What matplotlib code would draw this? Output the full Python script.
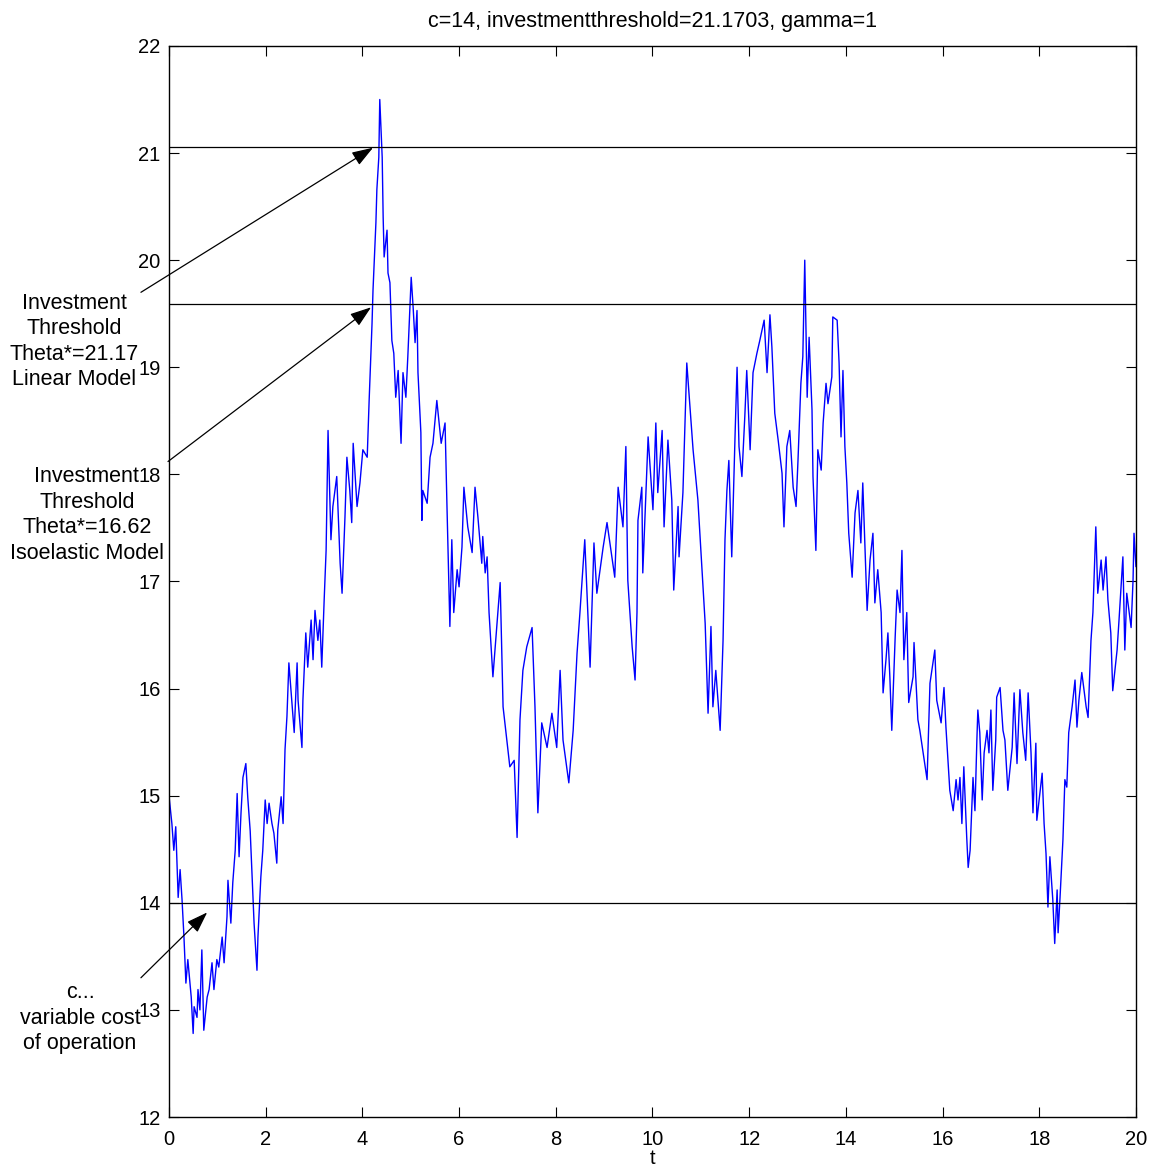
import matplotlib
matplotlib.use("Agg")
import matplotlib.pyplot as plt

plt.rcParams['font.family'] = ['Liberation Sans', 'DejaVu Sans']

# Simulated price path theta(t)
t = [0.00, 0.06, 0.10, 0.14, 0.19, 0.23, 0.27, 0.31, 0.35, 0.39, 0.46, 0.50, 0.52, 0.58, 0.60, 0.64,
     0.68, 0.72, 0.79, 0.83, 0.89, 0.93, 0.99, 1.03, 1.10, 1.14, 1.20, 1.22, 1.28, 1.32, 1.37, 1.41,
     1.45, 1.49, 1.53, 1.59, 1.63, 1.68, 1.72, 1.76, 1.82, 1.84, 1.90, 1.94, 1.99, 2.03, 2.07, 2.13,
     2.17, 2.23, 2.25, 2.32, 2.36, 2.40, 2.44, 2.48, 2.54, 2.59, 2.65, 2.67, 2.75, 2.77, 2.83, 2.87,
     2.94, 2.98, 3.02, 3.08, 3.12, 3.16, 3.21, 3.25, 3.29, 3.31, 3.35, 3.39, 3.47, 3.54, 3.58, 3.64,
     3.68, 3.74, 3.78, 3.81, 3.89, 3.95, 4.01, 4.10, 4.14, 4.20, 4.22, 4.28, 4.30, 4.34, 4.36, 4.41,
     4.43, 4.45, 4.51, 4.53, 4.57, 4.61, 4.65, 4.69, 4.74, 4.80, 4.84, 4.90, 4.94, 5.01, 5.05, 5.09,
     5.13, 5.15, 5.21, 5.23, 5.25, 5.34, 5.40, 5.46, 5.54, 5.63, 5.71, 5.75, 5.81, 5.85, 5.89, 5.96,
     6.00, 6.06, 6.10, 6.18, 6.27, 6.33, 6.39, 6.47, 6.49, 6.54, 6.58, 6.62, 6.70, 6.85, 6.91, 7.05,
     7.14, 7.20, 7.26, 7.32, 7.40, 7.51, 7.57, 7.63, 7.71, 7.82, 7.92, 8.02, 8.09, 8.15, 8.27, 8.36,
     8.44, 8.50, 8.60, 8.71, 8.79, 8.85, 8.98, 9.06, 9.22, 9.29, 9.39, 9.45, 9.49, 9.58, 9.64, 9.68,
     9.70, 9.78, 9.80, 9.91, 10.01, 10.07, 10.11, 10.20, 10.24, 10.32, 10.40, 10.44, 10.53, 10.55,
     10.63, 10.71, 10.78, 10.84, 10.94, 11.02, 11.09, 11.15, 11.21, 11.25, 11.31, 11.40, 11.46,
     11.50, 11.54, 11.58, 11.64, 11.71, 11.75, 11.79, 11.85, 11.91, 11.95, 12.02, 12.08, 12.16,
     12.22, 12.31, 12.37, 12.43, 12.47, 12.53, 12.60, 12.68, 12.72, 12.78, 12.84, 12.91, 12.97,
     13.01, 13.07, 13.11, 13.15, 13.20, 13.24, 13.30, 13.32, 13.38, 13.42, 13.49, 13.53, 13.59,
     13.63, 13.71, 13.73, 13.82, 13.86, 13.90, 13.94, 13.98, 14.02, 14.06, 14.13, 14.19, 14.25,
     14.31, 14.35, 14.40, 14.44, 14.50, 14.56, 14.60, 14.66, 14.73, 14.77, 14.83, 14.87, 14.91,
     14.95, 15.02, 15.06, 15.12, 15.16, 15.20, 15.26, 15.30, 15.39, 15.41, 15.49, 15.53, 15.62,
     15.68, 15.74, 15.80, 15.84, 15.88, 15.97, 16.03, 16.07, 16.15, 16.22, 16.28, 16.32, 16.36,
     16.40, 16.44, 16.50, 16.53, 16.57, 16.63, 16.67, 16.71, 16.73, 16.77, 16.82, 16.86, 16.92,
     16.96, 17.00, 17.04, 17.10, 17.12, 17.19, 17.25, 17.29, 17.35, 17.44, 17.48, 17.54, 17.60,
     17.66, 17.72, 17.77, 17.83, 17.87, 17.93, 17.95, 18.06, 18.10, 18.14, 18.18, 18.22, 18.28,
     18.32, 18.37, 18.39, 18.43, 18.49, 18.53, 18.57, 18.61, 18.68, 18.74, 18.78, 18.82, 18.88,
     18.92, 18.97, 19.01, 19.07, 19.11, 19.17, 19.21, 19.28, 19.32, 19.38, 19.42, 19.48, 19.52,
     19.61, 19.65, 19.73, 19.77, 19.81, 19.90, 19.94, 19.96, 20.00]

theta = [15.00, 14.74, 14.49, 14.71, 14.05, 14.31, 14.03, 13.68, 13.25, 13.47, 13.12, 12.78, 13.03,
         12.93, 13.19, 13.00, 13.56, 12.81, 13.12, 13.19, 13.44, 13.19, 13.47, 13.40, 13.68, 13.44,
         13.87, 14.21, 13.81, 14.19, 14.49, 15.02, 14.43, 14.84, 15.17, 15.30, 14.98, 14.67, 14.24,
         13.81, 13.37, 13.68, 14.24, 14.49, 14.96, 14.74, 14.93, 14.74, 14.65, 14.37, 14.68, 14.99,
         14.74, 15.43, 15.74, 16.24, 15.89, 15.59, 16.24, 15.89, 15.45, 15.89, 16.52, 16.20, 16.64,
         16.27, 16.73, 16.45, 16.64, 16.20, 16.83, 17.29, 18.41, 18.07, 17.39, 17.70, 17.98, 17.17,
         16.89, 17.60, 18.16, 17.85, 17.55, 18.29, 17.70, 17.92, 18.23, 18.16, 18.69, 19.41, 19.72,
         20.35, 20.66, 20.96, 21.50, 20.96, 20.40, 20.03, 20.28, 19.88, 19.79, 19.25, 19.13, 18.72,
         18.97, 18.29, 18.95, 18.72, 19.10, 19.84, 19.56, 19.23, 19.53, 18.95, 18.39, 17.57, 17.85,
         17.73, 18.16, 18.29, 18.69, 18.29, 18.48, 17.70, 16.58, 17.39, 16.71, 17.11, 16.95, 17.32,
         17.88, 17.51, 17.27, 17.88, 17.60, 17.17, 17.42, 17.08, 17.23, 16.71, 16.11, 16.99, 15.83,
         15.27, 15.33, 14.61, 15.71, 16.17, 16.39, 16.57, 15.83, 14.84, 15.68, 15.45, 15.77, 15.45,
         16.17, 15.52, 15.12, 15.61, 16.33, 16.71, 17.39, 16.20, 17.36, 16.89, 17.32, 17.55, 17.04,
         17.88, 17.51, 18.26, 17.01, 16.39, 16.08, 16.71, 17.57, 17.88, 17.08, 18.35, 17.67, 18.48,
         17.83, 18.41, 17.51, 18.32, 17.76, 16.92, 17.70, 17.23, 17.83, 19.04, 18.60, 18.23, 17.76,
         17.14, 16.61, 15.77, 16.58, 15.83, 16.17, 15.61, 16.45, 17.39, 17.85, 18.13, 17.23, 18.39,
         19.00, 18.26, 17.98, 18.54, 18.97, 18.23, 18.95, 19.13, 19.25, 19.44, 18.95, 19.49, 19.19,
         18.57, 18.32, 18.01, 17.51, 18.26, 18.41, 17.88, 17.70, 18.13, 18.85, 19.10, 20.00, 18.72,
         19.28, 18.60, 17.98, 17.29, 18.23, 18.04, 18.48, 18.85, 18.66, 18.91, 19.47, 19.44, 19.04,
         18.35, 18.97, 18.26, 17.92, 17.45, 17.04, 17.64, 17.85, 17.36, 17.92, 17.27, 16.73, 17.20,
         17.45, 16.80, 17.11, 16.71, 15.96, 16.27, 16.52, 16.11, 15.61, 16.48, 16.92, 16.71, 17.29,
         16.27, 16.71, 15.87, 16.11, 16.43, 15.71, 15.61, 15.33, 15.15, 16.05, 16.24, 16.36, 15.89,
         15.68, 16.01, 15.64, 15.05, 14.86, 15.15, 14.96, 15.17, 14.74, 15.27, 14.61, 14.33, 14.49,
         15.17, 14.86, 15.52, 15.80, 15.59, 14.96, 15.40, 15.61, 15.40, 15.80, 15.05, 15.52, 15.92,
         16.01, 15.61, 15.52, 15.05, 15.45, 15.96, 15.30, 15.99, 15.59, 15.33, 15.96, 15.40, 14.84,
         15.49, 14.77, 15.21, 14.74, 14.46, 13.96, 14.43, 14.03, 13.62, 14.12, 13.72, 14.05, 14.59,
         15.15, 15.08, 15.59, 15.83, 16.08, 15.64, 15.89, 16.15, 16.01, 15.83, 15.73, 16.45, 16.71,
         17.51, 16.89, 17.20, 16.92, 17.23, 16.83, 16.52, 15.98, 16.36, 16.64, 17.23, 16.36, 16.89,
         16.57, 17.01, 17.45, 17.14]

# Reference levels
linear_threshold = 21.06
isoelastic_level = 19.59
variable_cost = 14.0

x_ticks = [0, 2, 4, 6, 8, 10, 12, 14, 16, 18, 20]
y_ticks = [12, 13, 14, 15, 16, 17, 18, 19, 20, 21, 22]

fig = plt.figure(figsize=(11.55, 11.74), dpi=100)
ax = fig.add_axes([0.1463, 0.04855, 0.8372, 0.9123])

ax.plot(t, theta, color=(0, 0, 1), linewidth=1.0)
for level in (linear_threshold, isoelastic_level, variable_cost):
    ax.plot([0, 20], [level, level], color='black', linewidth=0.9)

ax.set_xlim(0, 20)
ax.set_ylim(12, 22)
ax.set_xticks(x_ticks)
ax.set_yticks(y_ticks)
ax.tick_params(direction='in', length=7, width=0.8, top=True, right=True,
               labelsize=14.5)
ax.tick_params(axis='y', pad=6)
ax.tick_params(axis='x', pad=9)
for sp in ax.spines.values():
    sp.set_linewidth(1.0)
ax.set_xlabel('t', fontsize=14.5, labelpad=0)
ax.set_title('c=14, investmentthreshold=21.1703, gamma=1', fontsize=15.5, pad=14)

arrow = dict(arrowstyle='-|>,head_length=1.3,head_width=0.45', color='black',
             linewidth=0.9, shrinkA=0, shrinkB=0)
ax.annotate('', xy=(4.22, 21.05), xytext=(-0.58, 19.70), arrowprops=arrow,
            annotation_clip=False)
ax.annotate('', xy=(4.18, 19.56), xytext=(-0.02, 18.12), arrowprops=arrow,
            annotation_clip=False)
ax.annotate('', xy=(0.79, 13.91), xytext=(-0.58, 13.30), arrowprops=arrow,
            annotation_clip=False)

label_style = dict(ha='center', va='center', fontsize=15.5, linespacing=1.28,
                   clip_on=False)
ax.text(-1.96, 19.24, 'Investment\nThreshold\nTheta*=21.17\nLinear Model', **label_style)
ax.text(-1.70, 17.62, 'Investment\nThreshold\nTheta*=16.62\nIsoelastic Model', **label_style)
ax.text(-1.84, 12.92, 'c...\nvariable cost\nof operation', **label_style)

fig.savefig('out.png', dpi=100)
